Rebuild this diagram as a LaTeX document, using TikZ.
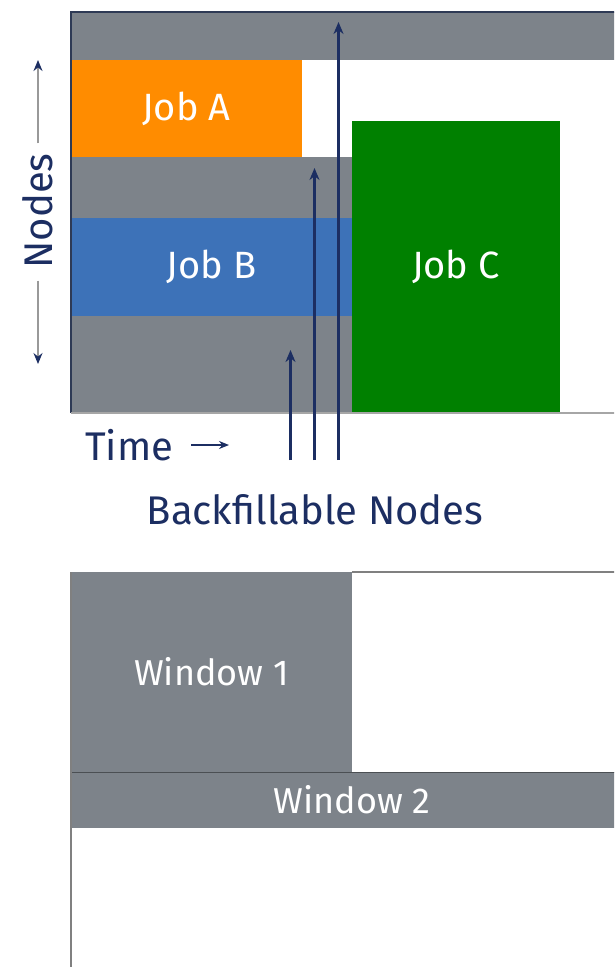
\documentclass[tikz,border=0pt]{standalone}
\usepackage{fontspec}
\setmainfont{Fira Sans}
\usetikzlibrary{arrows.meta}
\definecolor{slot}{HTML}{7D838A}
\definecolor{joba}{HTML}{FF8C00}
\definecolor{jobb}{HTML}{3D72B8}
\definecolor{jobc}{HTML}{008000}
\definecolor{navy}{HTML}{1C2E62}
\definecolor{frame}{HTML}{2E3A55}
\tikzset{
  block/.style={anchor=north west, inner sep=0pt, outer sep=0pt, text=white,
    font=\fontsize{38}{38}\selectfont},
  winblock/.style={block, fill=slot, font=\fontsize{36}{36}\selectfont},
  label/.style={text=navy, inner sep=0pt},
  backfill/.style={draw=navy, line width=2.4pt, -{Stealth[length=12pt,width=10pt]}},
  axisarrow/.style={draw=gray!80, line width=1.6pt,
    -{Stealth[length=11pt,width=9pt,color=navy]}},
}
\begin{document}
\begin{tikzpicture}[x=1pt,y=-1pt]
\useasboundingbox (0,0) rectangle (614,967);
\clip (0,0) rectangle (614,967);
\fill[white] (0,0) rectangle (614,967);

% ---------- schedule panel ----------
\node[block, fill=slot, minimum width=560pt, minimum height=48pt] (topband) at (71,12) {};
\node[block, fill=slot, minimum width=281pt, minimum height=61pt] (midband) at (71,157) {};
\node[block, fill=slot, minimum width=281pt, minimum height=97pt] (lowband) at (71,316) {};
\node[block, fill=joba, minimum width=231pt, minimum height=97pt] (jobA) at (71,60) {Job A};
\node[block, fill=jobb, minimum width=281pt, minimum height=98pt] (jobB) at (71,218) {Job B};
\node[block, fill=jobc, minimum width=208pt, minimum height=292pt] (jobC) at (352,121) {Job C};

% frame
\draw[frame, line width=1.2pt] (71,413) -- (71,12) -- (630,12);
\draw[gray!70, line width=1.4pt] (71,413) -- (630,413);

% axis labels
\node[label, rotate=90, font=\fontsize{40}{40}\selectfont] (nodeslbl) at (38,211) {Nodes};
\coordinate (nodestop) at (38,60);
\coordinate (nodesbot) at (38,364);
\draw[axisarrow] ([yshift=10pt]nodeslbl.east) -- (nodestop);
\draw[axisarrow] ([yshift=-12pt]nodeslbl.west) -- (nodesbot);
\node[label, anchor=west, font=\fontsize{40}{40}\selectfont] (timelbl) at (85,445) {Time};
\coordinate (timestart) at (191,445);
\coordinate (timeend) at (229,445);
\draw[navy, line width=1.6pt, -{Stealth[length=10pt,width=8pt]}] (timestart) -- (timeend);

% backfill markers
\node[label, font=\fontsize{40}{40}\selectfont] (bflbl) at (315,510) {Backfillable Nodes};
\coordinate (b1) at (290.5,460);
\coordinate (b2) at (314.5,460);
\coordinate (b3) at (338.5,460);
\coordinate (t1) at (290.5,350);
\coordinate (t2) at (314.5,168);
\coordinate (t3) at (338.5,22);
\draw[backfill] (b1) -- (t1);
\draw[backfill] (b2) -- (t2);
\draw[backfill] (b3) -- (t3);

% ---------- window panel ----------
\node[winblock, minimum width=281pt, minimum height=200pt] (win1) at (71,572) {Window 1};
\node[winblock, minimum width=562pt, minimum height=56pt] (win2) at (71,772) {Window 2};
\draw[slot!60!black, line width=0.8pt] (win2.north west) -- (win2.north east);
\draw[gray, line width=1.4pt] (win1.north east) -- (630,572);
\draw[gray, line width=1.4pt] (71,572) -- (71,967);
\end{tikzpicture}
\end{document}
